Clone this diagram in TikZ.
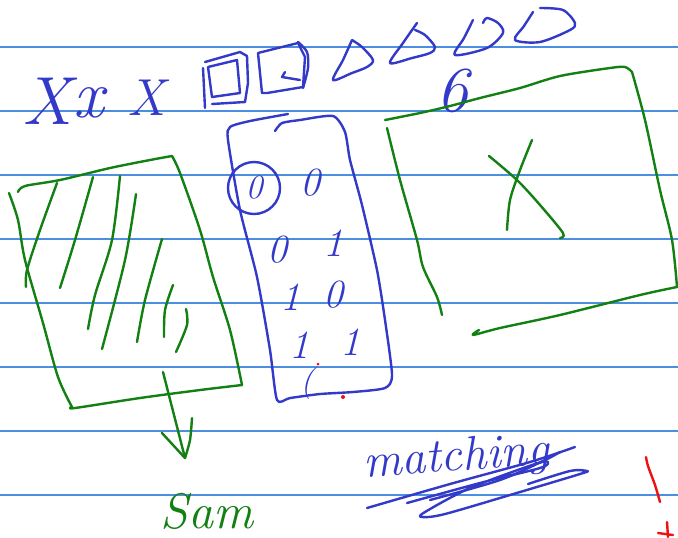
\documentclass[tikz,border=0pt]{standalone}
\usepackage{amsmath,amssymb,tikz}
\definecolor{Ink}{HTML}{3339C8}
\definecolor{Leaf}{HTML}{138013}
\definecolor{Rule}{HTML}{4C8FE0}
\definecolor{Pen}{HTML}{F01010}

\begin{document}
\begin{tikzpicture}[x=0.5pt,y=-0.5pt,
    rule/.style={Rule,line width=0.6pt},
    ink/.style={line width=1.2pt,line cap=round,line join=round},
    bink/.style={ink,Ink},
    gink/.style={ink,Leaf},
    rink/.style={ink,Pen},
    hand/.style={inner sep=0pt,font=\itshape}]
    \useasboundingbox[fill=white] (0,0) rectangle (678,537);
    % ruled paper
    \foreach \y in {47,111,175,239,303,367,431,495}
        \draw[rule] (0,\y) -- (678,\y);

    % top row
    \node[hand,Ink,font=\fontsize{34}{36}\selectfont\itshape] (xone) at (47,101) {X};
    \node[hand,Ink,font=\fontsize{34}{36}\selectfont\itshape] (xtwo) at (89,103) {x};
    \node[hand,Ink,font=\fontsize{26}{28}\selectfont\itshape] (xthree) at (146,98) {X};
    % two squares
    \draw[bink] (205,62) -- (240,52) -- (247,56) -- (248,83) -- (245,102) -- (212,104);
    \draw[bink] (208,67) -- (237,60) -- (240,93) -- (212,97) -- cycle;
    \draw[bink] (203,68) -- (205,108);
    \draw[bink] (258,53) -- (298,43) -- (305,57) -- (303,87) -- (267,93) -- (262,93) -- cycle;
    \draw[bink] plot[smooth] coordinates {(298,42) (307,52) (308,68) (303,88)};
    \draw[bink] (285,72) -- (282,77) -- (300,80);
    % four tear shapes
    \draw[bink] plot[smooth] coordinates {(352,40) (343,60) (333,80) (352,73) (367,67) (373,60) (362,47) (352,40)};
    \draw[bink] plot[smooth] coordinates {(417,23) (403,43) (390,63) (412,58) (430,53) (435,47) (425,35) (415,30)};
    \draw[bink] plot[smooth] coordinates {(473,20) (464,38) (455,55) (487,48) (503,33) (498,23) (487,18) (483,23)};
    \draw[bink] plot[smooth] coordinates {(533,12) (524,26) (515,40) (540,42) (570,30) (575,23) (563,10) (540,8)};
    \node[hand,Ink,font=\fontsize{32}{34}\selectfont\itshape] (six) at (452,91) {6};

    % left green box, hatched
    \draw[gink] plot[smooth] coordinates {(18,192) (25,186) (60,180) (110,168) (150,160) (172,156)};
    \draw[gink] plot[smooth] coordinates {(172,156) (180,173) (200,230) (213,277) (230,330) (242,385)};
    \draw[gink] plot[smooth] coordinates {(242,385) (200,390) (140,398) (75,408) (72,407)};
    \draw[gink] plot[smooth] coordinates {(9,193) (18,220) (25,260) (43,323) (58,377) (72,407)};
    \draw[gink] plot[smooth] coordinates {(57,183) (40,230) (27,270) (26,287)};
    \draw[gink] plot[smooth] coordinates {(93,177) (75,240) (60,288)};
    \draw[gink] plot[smooth] coordinates {(120,176) (112,240) (95,295) (88,329)};
    \draw[gink] plot[smooth] coordinates {(136,194) (125,260) (102,349)};
    \draw[gink] plot[smooth] coordinates {(162,239) (145,300) (137,342)};
    \draw[gink] plot[smooth] coordinates {(173,285) (165,310) (164,337)};
    \draw[gink] plot[smooth] coordinates {(186,309) (187,325) (176,352)};
    \coordinate (tail) at (163,372);
    \coordinate (tip) at (185,458);
    \draw[gink] (tail) -- (tip);
    \draw[gink] (162,433) -- (tip);
    \draw[gink] plot[smooth] coordinates {(192,418) (190,440) (tip)};
    \node[hand,Leaf,font=\fontsize{25}{27}\selectfont\itshape] (sam) at (207,511) {Sam};

    % blue table of bits
    \draw[bink] plot[smooth,tension=0.4] coordinates {(288,114) (250,121) (230,127) (228,140) (240,210) (257,277) (270,350) (277,400)
        (290,398) (320,394) (353,392) (385,388) (392,375) (385,320) (377,270) (362,205) (350,160) (345,132) (333,116) (300,120) (282,123) (275,131)};
    \node[hand,Ink,circle,draw,line width=1.2pt,minimum size=26pt,font=\fontsize{17}{19}\selectfont\itshape] (bzz) at (254,188) {0};
    \node[hand,Ink,font=\fontsize{20}{22}\selectfont\itshape] (bzo) at (310,183) {0};
    \node[hand,Ink,font=\fontsize{20}{22}\selectfont\itshape] (boz) at (277,250) {0};
    \node[hand,Ink,font=\fontsize{20}{22}\selectfont\itshape] (boo) at (333,243) {1};
    \node[hand,Ink,font=\fontsize{20}{22}\selectfont\itshape] (btz) at (290,297) {1};
    \node[hand,Ink,font=\fontsize{20}{22}\selectfont\itshape] (bto) at (333,295) {0};
    \node[hand,Ink,font=\fontsize{20}{22}\selectfont\itshape] (bhz) at (299,345) {1};
    \node[hand,Ink,font=\fontsize{20}{22}\selectfont\itshape] (bho) at (350,342) {1};
    \node[hand,Ink,font=\fontsize{16}{18}\selectfont\itshape] (bend) at (307,384) {(};
    \fill[Pen] (318,364) circle (1.5);
    \fill[Pen] (343,397) circle (2);

    % right green box with cross
    \draw[gink] plot[smooth] coordinates {(385,120) (420,113) (450,106) (480,98) (520,88) (560,76) (610,68) (625,67) (632,72)};
    \draw[gink] plot[smooth] coordinates {(632,72) (645,120) (660,190) (672,240) (677,287)};
    \draw[gink] plot[smooth] coordinates {(677,287) (640,295) (560,315) (500,328) (473,335) (479,330)};
    \draw[gink] plot[smooth] coordinates {(387,128) (400,180) (417,240) (423,267) (437,297) (442,315)};
    \draw[gink] plot[smooth] coordinates {(489,156) (517,180) (540,205) (563,233) (560,238)};
    \draw[gink] plot[smooth] coordinates {(532,140) (520,170) (510,200) (507,230)};

    % matching, scribbled under
    \node[hand,Ink,rotate=4,font=\fontsize{24}{26}\selectfont\itshape] (match) at (456,459) {matching};
    \draw[bink] plot[smooth] coordinates {(367,508) (450,484) (530,462) (575,447)};
    \draw[bink] plot[smooth] coordinates {(407,503) (480,483) (540,468) (548,462) (535,464) (470,488) (425,512) (422,517) (445,514) (520,492) (580,474) (587,471) (570,471) (528,484)};
    \draw[bink] plot[smooth] coordinates {(430,500) (500,480) (545,460) (560,452)};

    % red marks
    \draw[rink] plot[smooth] coordinates {(646,457) (648,466) (655,485) (660,502)};
    \draw[rink] (667,522) -- (668,537);
    \draw[rink] (658,533) -- (673,535);
\end{tikzpicture}
\end{document}
